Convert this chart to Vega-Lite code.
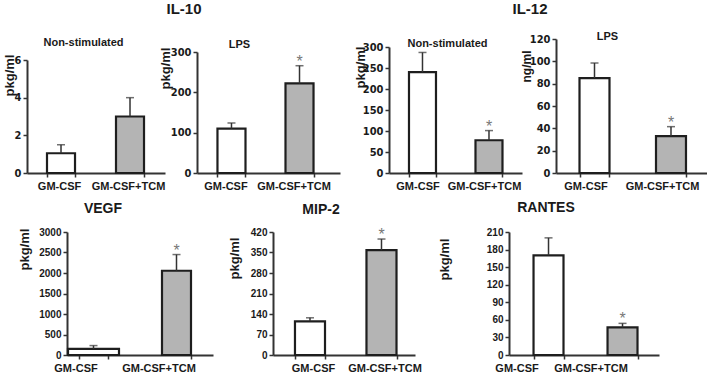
{
  "$schema": "https://vega.github.io/schema/vega-lite/v6.json",
  "background": "white",
  "padding": {"left": 3, "top": 2, "right": 0, "bottom": 0},
  "config": {
    "view": {"stroke": null},
    "font": "Liberation Sans",
    "title": {"font": "Liberation Sans", "fontSize": 14, "fontWeight": "bold", "color": "#1a1a1a", "anchor": "middle", "frame": "group", "baseline": "alphabetic"},
    "axisX": {"domainColor": "#333", "domainWidth": 2, "tickColor": "#333", "tickWidth": 1.5, "tickSize": 4, "tickBand": "extent", "labelAngle": 0, "labelFont": "Liberation Sans", "labelFontSize": 11, "labelFontWeight": "bold", "labelColor": "#1a1a1a", "labelPadding": 3, "labelBaseline": "top", "labelOverlap": false, "titleFont": "Liberation Sans", "titleFontSize": 11, "titleFontWeight": "bold", "titleColor": "#1a1a1a", "titleAlign": "center", "titleBaseline": "alphabetic"},
    "axisY": {"domainColor": "#333", "domainWidth": 2, "tickColor": "#333", "tickWidth": 1.5, "tickSize": 4, "grid": false, "format": "d", "labelOverlap": false, "labelFont": "Liberation Sans Narrow, DejaVu Sans Condensed, Liberation Sans", "labelFontSize": 11, "labelFontWeight": "bold", "labelColor": "#1a1a1a", "labelPadding": 2, "titleFont": "Liberation Sans", "titleFontSize": 13, "titleFontWeight": "bold", "titleColor": "#1a1a1a", "titleAngle": 270, "titleAlign": "center", "titleBaseline": "top"},
    "bar": {"stroke": "#1e1e1e", "strokeWidth": 2.2},
    "rule": {"color": "#333", "strokeWidth": 1.5},
    "tick": {"color": "#333", "thickness": 1.5},
    "text": {"fontSize": 16, "color": "#777", "baseline": "alphabetic", "dy": 1, "font": "Liberation Sans"}
  },
  "data": {"values": [
    {"panel": "IL-10 Non-stimulated", "group": "GM-CSF", "mean": 1.05, "upper": 1.5, "star": ""},
    {"panel": "IL-10 Non-stimulated", "group": "GM-CSF+TCM", "mean": 3.0, "upper": 4.0, "star": ""},
    {"panel": "IL-10 LPS", "group": "GM-CSF", "mean": 110, "upper": 124, "star": ""},
    {"panel": "IL-10 LPS", "group": "GM-CSF+TCM", "mean": 222, "upper": 266, "star": "*"},
    {"panel": "IL-12 Non-stimulated", "group": "GM-CSF", "mean": 240, "upper": 287, "star": ""},
    {"panel": "IL-12 Non-stimulated", "group": "GM-CSF+TCM", "mean": 78, "upper": 101, "star": "*"},
    {"panel": "IL-12 LPS", "group": "GM-CSF", "mean": 85, "upper": 98.5, "star": ""},
    {"panel": "IL-12 LPS", "group": "GM-CSF+TCM", "mean": 33, "upper": 41.5, "star": "*"},
    {"panel": "VEGF", "group": "GM-CSF", "mean": 150, "upper": 230, "star": ""},
    {"panel": "VEGF", "group": "GM-CSF+TCM", "mean": 2055, "upper": 2450, "star": "*"},
    {"panel": "MIP-2", "group": "GM-CSF", "mean": 115, "upper": 127, "star": ""},
    {"panel": "MIP-2", "group": "GM-CSF+TCM", "mean": 358, "upper": 396, "star": "*"},
    {"panel": "RANTES", "group": "GM-CSF", "mean": 170, "upper": 200, "star": ""},
    {"panel": "RANTES", "group": "GM-CSF+TCM", "mean": 47, "upper": 54, "star": "*"}
  ]},
  "columns": 4,
  "align": "each",
  "bounds": "flush",
  "spacing": {"row": 59, "column": 20},
  "concat": [
    {
      "width": 150, "height": 134,
      "title": {"text": "IL-10", "fontSize": 15, "dx": 82, "offset": 19},
      "transform": [{"filter": "datum.panel === 'IL-10 Non-stimulated'"}],
      "encoding": {"x": {"field": "group", "type": "nominal", "sort": null, "scale": {"range": [0, 138], "paddingInner": 0.594, "paddingOuter": 0.297, "align": 0.488}, "axis": {"title": "Non-stimulated", "titleX": 56, "titleY": -128, "labelOffset": -2}}},
      "layer": [
        {"mark": {"type": "bar"}, "encoding": {
          "y": {"field": "mean", "type": "quantitative", "scale": {"domain": [0, 6], "range": [134, 21], "nice": false}, "axis": {"values": [0, 2, 4, 6], "title": "pkg/ml", "titleX": -24, "titleY": 36}},
          "fill": {"field": "group", "type": "nominal", "scale": {"domain": ["GM-CSF", "GM-CSF+TCM"], "range": ["#ffffff", "#b4b4b4"]}, "legend": null}}},
        {"mark": {"type": "rule"}, "encoding": {"y": {"field": "mean", "type": "quantitative", "axis": {"values": [0, 2, 4, 6], "title": "pkg/ml", "titleX": -24, "titleY": 36}}, "y2": {"field": "upper"}}},
        {"mark": {"type": "tick", "size": 8}, "encoding": {"y": {"field": "upper", "type": "quantitative", "axis": {"values": [0, 2, 4, 6], "title": "pkg/ml", "titleX": -24, "titleY": 36}}}},
        {"mark": {"type": "text"}, "encoding": {"y": {"field": "upper", "type": "quantitative", "axis": {"values": [0, 2, 4, 6], "title": "pkg/ml", "titleX": -24, "titleY": 36}}, "text": {"field": "star"}}}
      ]
    },
    {
      "width": 172, "height": 134,
      "transform": [{"filter": "datum.panel === 'IL-10 LPS'"}],
      "encoding": {"x": {"field": "group", "type": "nominal", "sort": null, "scale": {"range": [0, 143], "paddingInner": 0.588, "paddingOuter": 0.345, "align": 0.436}, "axis": {"title": "LPS", "titleX": 42, "titleY": -126, "labelOffset": -6}}},
      "layer": [
        {"mark": {"type": "bar"}, "encoding": {
          "y": {"field": "mean", "type": "quantitative", "scale": {"domain": [0, 300], "range": [134, 13], "nice": false}, "axis": {"values": [0, 100, 200, 300], "title": "pkg/ml", "titleX": -38, "titleY": 29}},
          "fill": {"field": "group", "type": "nominal", "scale": {"domain": ["GM-CSF", "GM-CSF+TCM"], "range": ["#ffffff", "#b4b4b4"]}, "legend": null}}},
        {"mark": {"type": "rule"}, "encoding": {"y": {"field": "mean", "type": "quantitative", "axis": {"values": [0, 100, 200, 300], "title": "pkg/ml", "titleX": -38, "titleY": 29}}, "y2": {"field": "upper"}}},
        {"mark": {"type": "tick", "size": 8}, "encoding": {"y": {"field": "upper", "type": "quantitative", "axis": {"values": [0, 100, 200, 300], "title": "pkg/ml", "titleX": -38, "titleY": 29}}}},
        {"mark": {"type": "text"}, "encoding": {"y": {"field": "upper", "type": "quantitative", "axis": {"values": [0, 100, 200, 300], "title": "pkg/ml", "titleX": -38, "titleY": 29}}, "text": {"field": "star"}}}
      ]
    },
    {
      "width": 147, "height": 134,
      "title": {"text": "IL-12", "fontSize": 15, "dx": 67.5, "offset": 20},
      "transform": [{"filter": "datum.panel === 'IL-12 Non-stimulated'"}],
      "encoding": {"x": {"field": "group", "type": "nominal", "sort": null, "scale": {"range": [0, 133], "paddingInner": 0.594, "paddingOuter": 0.297, "align": 0.506}, "axis": {"title": "Non-stimulated", "titleX": 58, "titleY": -127, "labelOffset": -5}}},
      "layer": [
        {"mark": {"type": "bar"}, "encoding": {
          "y": {"field": "mean", "type": "quantitative", "scale": {"domain": [0, 300], "range": [134, 8], "nice": false}, "axis": {"values": [0, 50, 100, 150, 200, 250, 300], "title": "pkg/ml", "titleX": -35, "titleY": 28}},
          "fill": {"field": "group", "type": "nominal", "scale": {"domain": ["GM-CSF", "GM-CSF+TCM"], "range": ["#ffffff", "#b4b4b4"]}, "legend": null}}},
        {"mark": {"type": "rule"}, "encoding": {"y": {"field": "mean", "type": "quantitative", "axis": {"values": [0, 50, 100, 150, 200, 250, 300], "title": "pkg/ml", "titleX": -35, "titleY": 28}}, "y2": {"field": "upper"}}},
        {"mark": {"type": "tick", "size": 8}, "encoding": {"y": {"field": "upper", "type": "quantitative", "axis": {"values": [0, 50, 100, 150, 200, 250, 300], "title": "pkg/ml", "titleX": -35, "titleY": 28}}}},
        {"mark": {"type": "text"}, "encoding": {"y": {"field": "upper", "type": "quantitative", "axis": {"values": [0, 50, 100, 150, 200, 250, 300], "title": "pkg/ml", "titleX": -35, "titleY": 28}}, "text": {"field": "star"}}}
      ]
    },
    {
      "width": 151, "height": 134,
      "transform": [{"filter": "datum.panel === 'IL-12 LPS'"}],
      "encoding": {"x": {"field": "group", "type": "nominal", "sort": null, "scale": {"paddingInner": 0.608, "paddingOuter": 0.291, "align": 0.528}, "axis": {"title": "LPS", "titleX": 51, "titleY": -134, "labelOffset": -9}}},
      "layer": [
        {"mark": {"type": "bar"}, "encoding": {
          "y": {"field": "mean", "type": "quantitative", "scale": {"domain": [0, 120], "nice": false}, "axis": {"values": [0, 20, 40, 60, 80, 100, 120], "title": "ng/ml", "titleFontSize": 12, "titleX": -35, "titleY": 27}},
          "fill": {"field": "group", "type": "nominal", "scale": {"domain": ["GM-CSF", "GM-CSF+TCM"], "range": ["#ffffff", "#b4b4b4"]}, "legend": null}}},
        {"mark": {"type": "rule"}, "encoding": {"y": {"field": "mean", "type": "quantitative", "axis": {"values": [0, 20, 40, 60, 80, 100, 120], "title": "ng/ml", "titleFontSize": 12, "titleX": -35, "titleY": 27}}, "y2": {"field": "upper"}}},
        {"mark": {"type": "tick", "size": 8}, "encoding": {"y": {"field": "upper", "type": "quantitative", "axis": {"values": [0, 20, 40, 60, 80, 100, 120], "title": "ng/ml", "titleFontSize": 12, "titleX": -35, "titleY": 27}}}},
        {"mark": {"type": "text"}, "encoding": {"y": {"field": "upper", "type": "quantitative", "axis": {"values": [0, 20, 40, 60, 80, 100, 120], "title": "ng/ml", "titleFontSize": 12, "titleX": -35, "titleY": 27}}, "text": {"field": "star"}}}
      ]
    },
    {
      "width": 150, "height": 123,
      "title": {"text": "VEGF", "dx": 1, "offset": 11},
      "transform": [{"filter": "datum.panel === 'VEGF'"}],
      "encoding": {"x": {"field": "group", "type": "nominal", "sort": null, "scale": {"range": [40, 186], "paddingInner": 0.651, "paddingOuter": 0.205, "align": 0.353}, "axis": {"title": null, "labelOffset": -18}}},
      "layer": [
        {"mark": {"type": "bar"}, "encoding": {
          "y": {"field": "mean", "type": "quantitative", "scale": {"domain": [0, 3000], "nice": false}, "axis": {"offset": -40, "values": [0, 500, 1000, 1500, 2000, 2500, 3000], "labelFont": "Liberation Sans", "labelFontSize": 10, "title": "pkg/ml", "titleX": -49, "titleY": 17}},
          "fill": {"field": "group", "type": "nominal", "scale": {"domain": ["GM-CSF", "GM-CSF+TCM"], "range": ["#ffffff", "#b4b4b4"]}, "legend": null},
          "size": {"condition": {"test": "datum.group === 'GM-CSF'", "value": 51}, "value": 29}}},
        {"mark": {"type": "rule"}, "encoding": {"y": {"field": "mean", "type": "quantitative", "axis": {"offset": -40, "values": [0, 500, 1000, 1500, 2000, 2500, 3000], "labelFont": "Liberation Sans", "labelFontSize": 10, "title": "pkg/ml", "titleX": -49, "titleY": 17}}, "y2": {"field": "upper"}}},
        {"mark": {"type": "tick", "size": 8}, "encoding": {"y": {"field": "upper", "type": "quantitative", "axis": {"offset": -40, "values": [0, 500, 1000, 1500, 2000, 2500, 3000], "labelFont": "Liberation Sans", "labelFontSize": 10, "title": "pkg/ml", "titleX": -49, "titleY": 17}}}},
        {"mark": {"type": "text"}, "encoding": {"y": {"field": "upper", "type": "quantitative", "axis": {"offset": -40, "values": [0, 500, 1000, 1500, 2000, 2500, 3000], "labelFont": "Liberation Sans", "labelFontSize": 10, "title": "pkg/ml", "titleX": -49, "titleY": 17}}, "text": {"field": "star"}}}
      ]
    },
    {
      "width": 172, "height": 123,
      "title": {"text": "MIP-2", "dx": 38, "offset": 10},
      "transform": [{"filter": "datum.panel === 'MIP-2'"}],
      "encoding": {"x": {"field": "group", "type": "nominal", "sort": null, "scale": {"range": [76, 218], "paddingInner": 0.58, "paddingOuter": 0.283, "align": 0.543}, "axis": {"title": null, "labelOffset": 3}}},
      "layer": [
        {"mark": {"type": "bar"}, "encoding": {
          "y": {"field": "mean", "type": "quantitative", "scale": {"domain": [0, 420], "nice": false}, "axis": {"offset": -76, "values": [0, 70, 140, 210, 280, 350, 420], "labelFont": "Liberation Sans", "labelFontSize": 10, "title": "pkg/ml", "titleX": -45, "titleY": 26}},
          "fill": {"field": "group", "type": "nominal", "scale": {"domain": ["GM-CSF", "GM-CSF+TCM"], "range": ["#ffffff", "#b4b4b4"]}, "legend": null}}},
        {"mark": {"type": "rule"}, "encoding": {"y": {"field": "mean", "type": "quantitative", "axis": {"offset": -76, "values": [0, 70, 140, 210, 280, 350, 420], "labelFont": "Liberation Sans", "labelFontSize": 10, "title": "pkg/ml", "titleX": -45, "titleY": 26}}, "y2": {"field": "upper"}}},
        {"mark": {"type": "tick", "size": 8}, "encoding": {"y": {"field": "upper", "type": "quantitative", "axis": {"offset": -76, "values": [0, 70, 140, 210, 280, 350, 420], "labelFont": "Liberation Sans", "labelFontSize": 10, "title": "pkg/ml", "titleX": -45, "titleY": 26}}}},
        {"mark": {"type": "text"}, "encoding": {"y": {"field": "upper", "type": "quantitative", "axis": {"offset": -76, "values": [0, 70, 140, 210, 280, 350, 420], "labelFont": "Liberation Sans", "labelFontSize": 10, "title": "pkg/ml", "titleX": -45, "titleY": 26}}, "text": {"field": "star"}}}
      ]
    },
    {
      "width": 147, "height": 123,
      "title": {"text": "RANTES", "dx": 83.5, "offset": 11},
      "transform": [{"filter": "datum.panel === 'RANTES'"}],
      "encoding": {"x": {"field": "group", "type": "nominal", "sort": null, "scale": {"range": [120, 270], "paddingInner": 0.595, "paddingOuter": 0.311, "align": 0.533}, "axis": {"title": null, "labelOffset": -32}}},
      "layer": [
        {"mark": {"type": "bar"}, "encoding": {
          "y": {"field": "mean", "type": "quantitative", "scale": {"domain": [0, 210], "nice": false}, "axis": {"offset": -120, "values": [0, 30, 60, 90, 120, 150, 180, 210], "labelFont": "Liberation Sans", "labelFontSize": 10, "title": "pkg/ml", "titleX": -71, "titleY": 27}},
          "fill": {"field": "group", "type": "nominal", "scale": {"domain": ["GM-CSF", "GM-CSF+TCM"], "range": ["#ffffff", "#b4b4b4"]}, "legend": null}}},
        {"mark": {"type": "rule"}, "encoding": {"y": {"field": "mean", "type": "quantitative", "axis": {"offset": -120, "values": [0, 30, 60, 90, 120, 150, 180, 210], "labelFont": "Liberation Sans", "labelFontSize": 10, "title": "pkg/ml", "titleX": -71, "titleY": 27}}, "y2": {"field": "upper"}}},
        {"mark": {"type": "tick", "size": 8}, "encoding": {"y": {"field": "upper", "type": "quantitative", "axis": {"offset": -120, "values": [0, 30, 60, 90, 120, 150, 180, 210], "labelFont": "Liberation Sans", "labelFontSize": 10, "title": "pkg/ml", "titleX": -71, "titleY": 27}}}},
        {"mark": {"type": "text"}, "encoding": {"y": {"field": "upper", "type": "quantitative", "axis": {"offset": -120, "values": [0, 30, 60, 90, 120, 150, 180, 210], "labelFont": "Liberation Sans", "labelFontSize": 10, "title": "pkg/ml", "titleX": -71, "titleY": 27}}, "text": {"field": "star"}}}
      ]
    }
  ]
}
